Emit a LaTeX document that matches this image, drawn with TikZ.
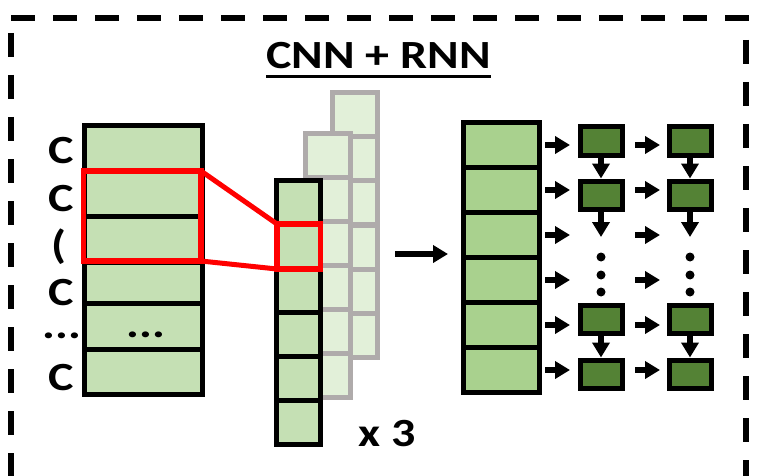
\documentclass[tikz,border=0pt]{standalone}
\usepackage{fontspec}
\setmainfont{Carlito}
\usetikzlibrary{arrows.meta}
\definecolor{cellgreen}{HTML}{C5E0B4}
\definecolor{palegreen}{HTML}{E2F0D9}
\definecolor{midgreen}{HTML}{A9D18E}
\definecolor{darkgreen}{HTML}{548235}
\definecolor{shadowgray}{HTML}{AFABAB}
\newcommand{\hstretch}[1]{\scalebox{1.2}[1]{#1}}
\begin{document}
\begin{tikzpicture}[x=1pt,y=-1pt,
  cellbox/.style={draw=black, line width=5pt, fill=cellgreen, inner sep=0pt, outer sep=0pt},
  ghostbox/.style={draw=shadowgray, line width=5pt, fill=palegreen, inner sep=0pt, outer sep=0pt},
  seqbox/.style={draw=black, line width=5pt, fill=midgreen, inner sep=0pt, outer sep=0pt,
                 minimum width=76pt, minimum height=45pt},
  rnnbox/.style={draw=black, line width=5pt, fill=darkgreen, inner sep=0pt, outer sep=0pt,
                 minimum width=42pt, minimum height=28pt},
  redbox/.style={draw=red, line width=5.5pt, inner sep=0pt, outer sep=0pt},
  redline/.style={draw=red, line width=5pt},
  arr/.style={line width=5.5pt, -{Triangle[length=15pt,width=17pt]}},
  lbl/.style={font=\bfseries\fontsize{40}{40}\selectfont, inner sep=0pt, anchor=base},
  rowlbl/.style={lbl, text height=26pt, text depth=0pt},
  dotlbl/.style={lbl, text height=6pt, text depth=0pt},
  border/.style={line width=6pt, dash pattern=on 24pt off 18pt}
]
\useasboundingbox (0,0) rectangle (768,476);

% dashed frame (its bottom edge lies below the page)
\begin{scope}
  \clip (0,0) rectangle (768,476);
  \draw[border] (11,18.5) -- (749,18.5);
  \draw[border] (11,33) -- (11,490);
  \draw[border] (746,40) -- (746,490);
\end{scope}

% title
\node[lbl] (title) at (378.5,69) {\hstretch{CNN + RNN}};
\draw[line width=3pt] ([yshift=-7.7pt]title.base west) -- ([yshift=-7.7pt]title.base east);

% input column with row labels
\node[cellbox, minimum width=118.5pt, minimum height=45pt] (L1) at (143.25,148.5) {};
\node[cellbox, minimum width=118.5pt, minimum height=45pt] (L2) at (143.25,193.5) {};
\node[cellbox, minimum width=118.5pt, minimum height=46pt] (L3) at (143.25,239) {};
\node[cellbox, minimum width=118.5pt, minimum height=41pt] (L4) at (143.25,282.5) {};
\node[cellbox, minimum width=118.5pt, minimum height=46pt] (L5) at (143.25,326) {};
\node[cellbox, minimum width=118.5pt, minimum height=45pt] (L6) at (143.25,371.5) {};
\node[dotlbl] (dotsL) at (146,337) {\hstretch{...}};

\node[rowlbl] (c1) at (61,164) {\hstretch{C}};
\node[rowlbl] (c2) at (61,211) {\hstretch{C}};
\node[lbl, text height=24pt, text depth=6pt] (c3) at (59,258) {\hstretch{(}};
\node[rowlbl] (c4) at (61,305) {\hstretch{C}};
\node[dotlbl] (c5) at (62,338) {\hstretch{...}};
\node[rowlbl] (c6) at (61,390) {\hstretch{C}};

% stacked convolution maps (back to front)
\foreach \i/\y in {1/114.6,2/158.75,3/202.9,4/247.1,5/291.25,6/335.4}
  \node[ghostbox, minimum width=45pt, minimum height=44.17pt] (Gc\i) at (355,\y) {};
\foreach \i/\y in {1/155.5,2/199.5,3/243.5,4/287.5,5/331.5,6/375.5}
  \node[ghostbox, minimum width=45pt, minimum height=44pt] (Gb\i) at (328,\y) {};
\foreach \i/\y in {1/202.5,2/246.5,3/290.5,4/334.5,5/378.5,6/422.5}
  \node[cellbox, minimum width=44pt, minimum height=44pt] (M\i) at (298.5,\y) {};
\node[lbl, anchor=base west] (times) at (358,446) {\hstretch{x 3}};

% receptive field
\node[redbox, minimum width=117.5pt, minimum height=90pt] (redA) at (142.25,216) {};
\node[redbox, minimum width=43.5pt, minimum height=45pt] (redB) at (298.75,246.5) {};
\draw[redline] (redA.north east) -- (redB.north west);
\draw[redline] (redA.south east) -- (redB.south west);

% feature sequence
\foreach \i/\y in {1/145,2/190,3/235,4/280,5/325,6/370}
  \node[seqbox] (R\i) at (501,\y) {};

\coordinate (midA) at (395,254);
\draw[arr] (midA) -- (midA -| R3.west) [shorten >=15pt];

% recurrent grid
\node[rnnbox] (B11) at (601,141) {};
\node[rnnbox] (B12) at (601,195) {};
\node[rnnbox] (B15) at (601,319) {};
\node[rnnbox] (B16) at (601,374) {};
\node[rnnbox] (B21) at (690,141) {};
\node[rnnbox] (B22) at (690,195) {};
\node[rnnbox] (B25) at (690,319) {};
\node[rnnbox] (B26) at (690,374) {};
\coordinate (S13) at (601,237);
\coordinate (S23) at (690,237);

% inputs into the first recurrent column
\foreach \r in {1,2,5,6}
  \draw[arr, shorten <=6pt, shorten >=10pt] (R\r.east) -- (R\r.east -| B1\r.west);
\foreach \r in {3,4}
  \draw[arr, shorten <=6pt, shorten >=31pt] (R\r.east) -- (R\r.east -| S13);

% first column to second column
\foreach \r in {1,2,5,6}
  \draw[arr, shorten <=13pt, shorten >=9pt] (R\r.east -| B1\r.east) -- (R\r.east -| B2\r.west);
\foreach \r in {3,4}
  \draw[arr, shorten <=34pt, shorten >=30pt] (R\r.east -| S13) -- (R\r.east -| S23);

% vertical recurrences
\foreach \c in {1,2} {
  \draw[arr, shorten >=2.5pt] (B\c1.south) -- (B\c2.north);
  \draw[arr] (B\c2.south) -- (S\c3);
  \draw[arr, shorten >=2.5pt] (B\c5.south) -- (B\c6.north);
  \foreach \y in {257,275,292}
    \fill (S\c3 |- 0,\y) circle (4.5pt);
}
\end{tikzpicture}
\end{document}
